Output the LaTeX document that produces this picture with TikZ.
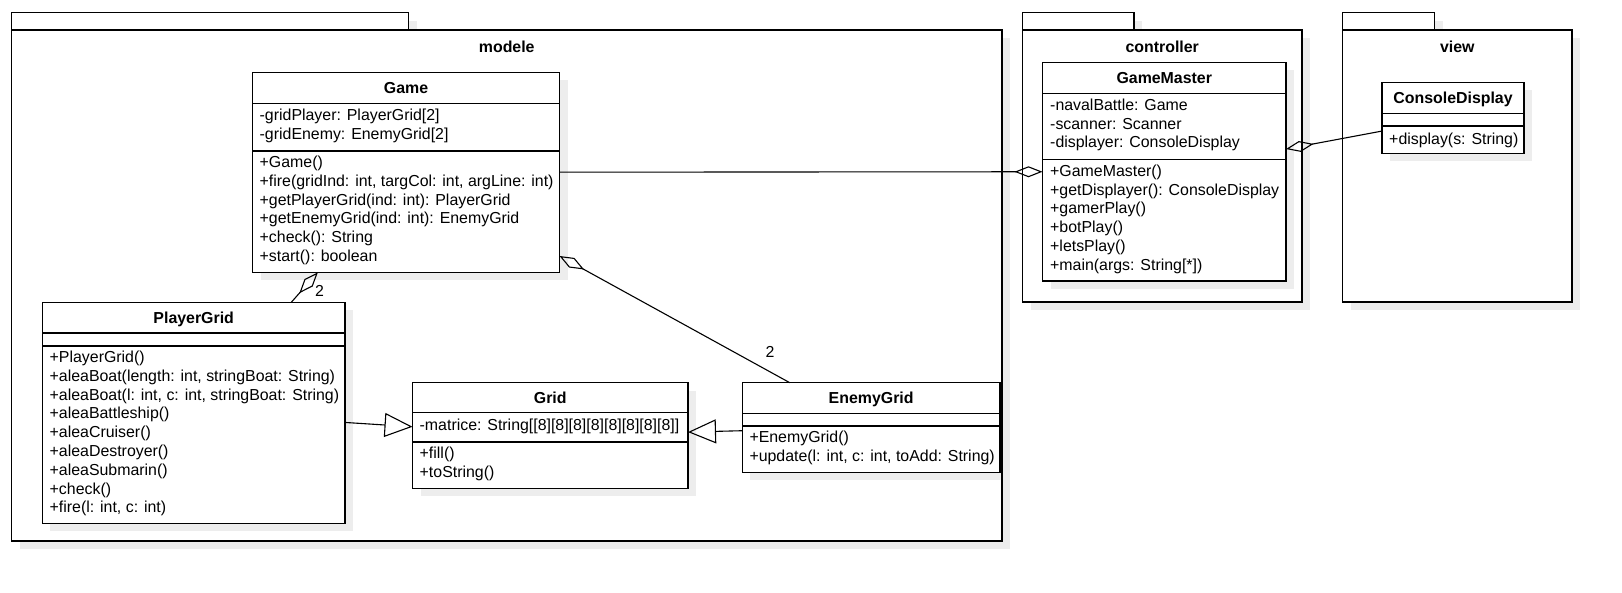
\documentclass[tikz,border=0pt]{standalone}
\usepackage{fontspec}
\setmainfont{Liberation Sans}
\usepackage{tikz}
\usetikzlibrary{arrows.meta}
\usetikzlibrary{shadows}

\tikzset{
  shadowed/.style={drop shadow={shadow xshift=8pt,shadow yshift=-8pt,fill=black!7,opacity=1}},
  package/.style={draw,line width=1.3pt,fill=white,inner sep=0pt,outer sep=0pt,anchor=north west,shadowed},
  umlclass/.style={draw,line width=1.3pt,fill=white,inner sep=0pt,outer sep=0pt,anchor=north west,shadowed},
  classname/.style={font=\bfseries,anchor=base,inner sep=0pt},
  members/.style={align=left,anchor=north west,inner sep=0pt,execute at begin node=\strut},
  compline/.style={line width=1.2pt},
  aggr/.style={line width=1.1pt,-{Diamond[open,length=28pt,width=11pt]}},
  gener/.style={line width=1.1pt,-{Triangle[open,length=28pt,width=24pt]}},
}

\begin{document}
\fontsize{15.9}{18.8}\selectfont
\begin{tikzpicture}[x=1pt,y=-1pt]
    \useasboundingbox[fill=white] (0,0) rectangle (1622,592);
    % packages
    \node[package,minimum width=397pt,minimum height=17.5pt] (modeletab) at (11.5,12.5) {};
    \node[package,minimum width=990.5pt,minimum height=511pt] (modele) at (11.5,30) {};
    \node[classname] (modelename) at (506.75,52.5) {modele};
    \node[package,minimum width=111.5pt,minimum height=17.5pt] (controllertab) at (1022.5,12.5) {};
    \node[package,minimum width=279.5pt,minimum height=272pt] (controller) at (1022.5,30) {};
    \node[classname] (controllername) at (1162.25,52.5) {controller};
    \node[package,minimum width=92pt,minimum height=17.5pt] (viewtab) at (1342.5,12.5) {};
    \node[package,minimum width=229.5pt,minimum height=272pt] (view) at (1342.5,30) {};
    \node[classname] (viewname) at (1457.25,52.5) {view};

    % Game
    \node[umlclass,minimum width=307pt,minimum height=200pt] (game) at (252.5,72.3) {};
    \node[classname] (gamename) at (406,93.8) {Game};
    \draw[compline] (252.5,103.7) -- (559.5,103.7);
    \draw[compline] (252.5,151) -- (559.5,151);
    \node[members] (gameattr) at (259.5,108.5)
      {-gridPlayer: PlayerGrid[2]\\-gridEnemy: EnemyGrid[2]};
    \node[members] (gameops) at (259.5,155.8)
      {+Game()\\+fire(gridInd: int, targCol: int, argLine: int)\\+getPlayerGrid(ind: int): PlayerGrid\\+getEnemyGrid(ind: int): EnemyGrid\\+check(): String\\+start(): boolean};

    % GameMaster
    \node[umlclass,minimum width=243.5pt,minimum height=218.7pt] (gmaster) at (1042.5,62.3) {};
    \node[classname] (gmastername) at (1164.25,83.8) {GameMaster};
    \draw[compline] (1042.5,93.7) -- (1286,93.7);
    \draw[compline] (1042.5,159.7) -- (1286,159.7);
    \node[members] (gmasterattr) at (1050,98.5)
      {-navalBattle: Game\\-scanner: Scanner\\-displayer: ConsoleDisplay};
    \node[members] (gmasterops) at (1050,164.5)
      {+GameMaster()\\+getDisplayer(): ConsoleDisplay\\+gamerPlay()\\+botPlay()\\+letsPlay()\\+main(args: String[*])};

    % ConsoleDisplay
    \node[umlclass,minimum width=142pt,minimum height=71pt] (cdisplay) at (1382,82.3) {};
    \node[classname] (cdisplayname) at (1453,103.8) {ConsoleDisplay};
    \draw[compline] (1382,113.7) -- (1524,113.7);
    \draw[compline] (1382,126) -- (1524,126);
    \node[members] (cdisplayops) at (1389,130.8) {+display(s: String)};

    % PlayerGrid
    \node[umlclass,minimum width=302.6pt,minimum height=221pt] (pgrid) at (42.4,302.3) {};
    \node[classname] (pgridname) at (193.7,323.4) {PlayerGrid};
    \draw[compline] (42.4,333) -- (345,333);
    \draw[compline] (42.4,346) -- (345,346);
    \node[members] (pgridops) at (49.5,350.8)
      {+PlayerGrid()\\+aleaBoat(length: int, stringBoat: String)\\+aleaBoat(l: int, c: int, stringBoat: String)\\+aleaBattleship()\\+aleaCruiser()\\+aleaDestroyer()\\+aleaSubmarin()\\+check()\\+fire(l: int, c: int)};

    % Grid
    \node[umlclass,minimum width=275.5pt,minimum height=105.6pt] (grid) at (412.5,382.7) {};
    \node[classname] (gridname) at (550.25,403.5) {Grid};
    \draw[compline] (412.5,412.7) -- (688,412.7);
    \draw[compline] (412.5,442) -- (688,442);
    \node[members] (gridattr) at (419.5,417.5) {-matrice: String[[8][8][8][8][8][8][8][8]]};
    \node[members] (gridops) at (419.5,446.8) {+fill()\\+toString()};

    % EnemyGrid
    \node[umlclass,minimum width=257.7pt,minimum height=89.6pt] (egrid) at (742.3,382.7) {};
    \node[classname] (egridname) at (871.15,403.8) {EnemyGrid};
    \draw[compline] (742.3,413.3) -- (1000,413.3);
    \draw[compline] (742.3,426) -- (1000,426);
    \node[members] (egridops) at (749.3,430.8)
      {+EnemyGrid()\\+update(l: int, c: int, toAdd: String)};
    % package border stays above the class shadow
    \draw[line width=1.3pt] (modele.north east) -- (modele.south east);

    % relations
    \draw[aggr] (pgrid) -- (game);
    \draw[aggr] (egrid) -- (game);
    \draw[aggr] (game) -- (gmaster);
    \draw[aggr] (cdisplay) -- (gmaster);
    \draw[gener] (pgrid) -- (grid);
    \draw[gener] (egrid) -- (grid);
    \node[anchor=base,inner sep=0pt] (pgridmult) at (319.5,296.8) {2};
    \node[anchor=base,inner sep=0pt] (egridmult) at (770,357.5) {2};
\end{tikzpicture}
\end{document}
